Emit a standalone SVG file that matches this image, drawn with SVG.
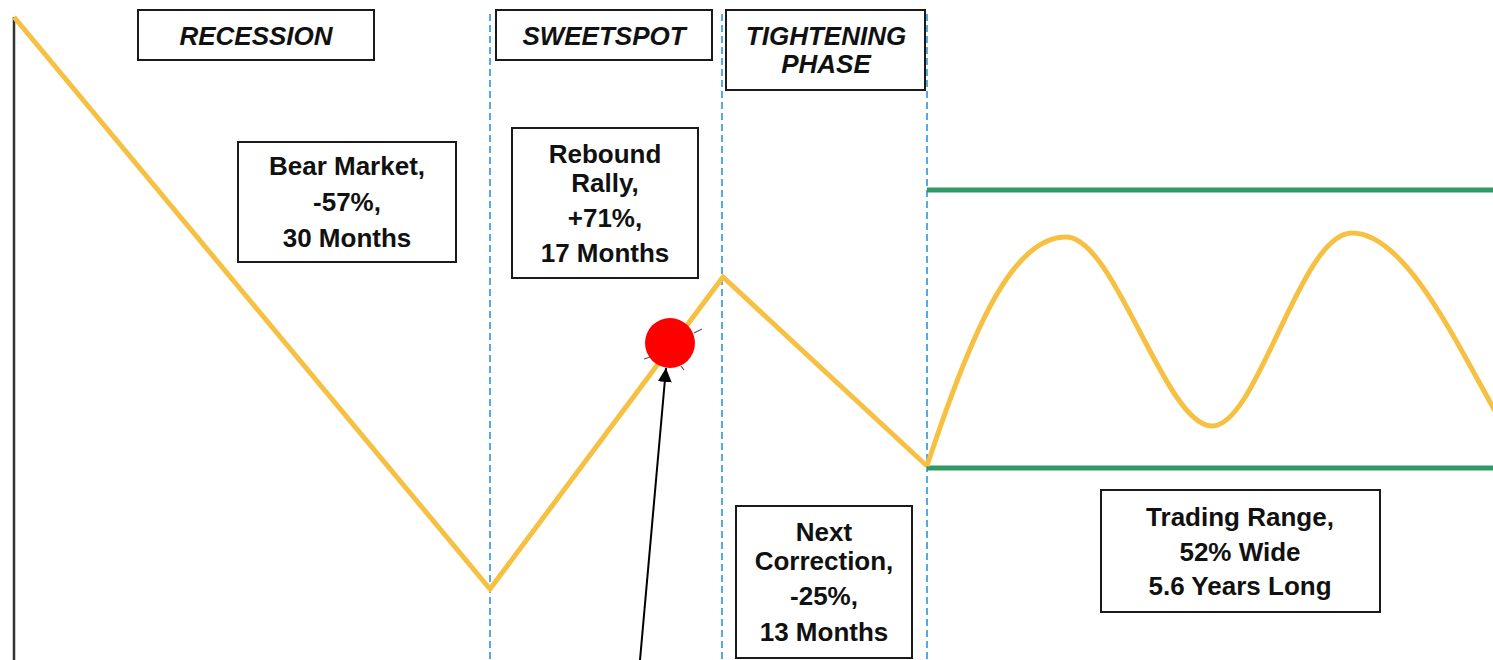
<svg xmlns="http://www.w3.org/2000/svg" width="1493" height="660" viewBox="0 0 1493 660">
<defs>
<style>
.box{fill:#fff;stroke:#1a1a1a;stroke-width:2}
.t{font-family:"Liberation Sans",Arial,sans-serif;font-weight:bold;font-size:26px;fill:#111;text-anchor:middle}
.ti{font-style:italic}
.div{stroke:#1e8fd6;stroke-width:1.5;stroke-dasharray:7,4;fill:none}
.price{stroke:#f6c042;stroke-width:5;fill:none;stroke-linejoin:miter}
.range{stroke:#2f9a66;stroke-width:5}
</style>
<marker id="ah" viewBox="0 0 10 10" refX="9" refY="5" markerWidth="8" markerHeight="8" markerUnits="userSpaceOnUse" orient="auto">
<path d="M0,0 L10,5 L0,10 z" fill="#000"/>
</marker>
<marker id="ah2" viewBox="0 0 10 10" refX="10" refY="5" markerWidth="14" markerHeight="14" markerUnits="userSpaceOnUse" orient="auto">
<path d="M0,0 L10,5 L0,10 z" fill="#000"/>
</marker>
</defs>
<rect width="1493" height="660" fill="#fff"/>
<g id="axis"><line x1="14" y1="17" x2="14" y2="660" stroke="#333" stroke-width="2.5"/></g>
<g id="connectors">
<line class="div" x1="490" y1="14" x2="490" y2="660"/>
<line class="div" x1="722" y1="14" x2="722" y2="660"/>
<line class="div" x1="927" y1="14" x2="927" y2="660"/>
<line class="range" x1="927" y1="190" x2="1493" y2="190"/>
<line class="range" x1="927" y1="468" x2="1493" y2="468"/>
<polyline class="price" points="14,17 490,589 723,277 927,466"/>
<path class="price" d="M927,466 C975,320 1015,237 1066,237 C1115,237 1165,426 1212,426 C1258,426 1300,233 1352,233 C1405,233 1455,340 1500,420"/>
<line x1="640" y1="660" x2="666" y2="368" stroke="#000" stroke-width="2" marker-end="url(#ah2)"/>
</g>
<g id="marker-dot">
<circle cx="670" cy="343" r="25" fill="#ff0000"/>
<line x1="694" y1="333" x2="702" y2="329" stroke="#555" stroke-width="1.2"/>
<line x1="644" y1="359" x2="650" y2="357" stroke="#555" stroke-width="1.2"/>
<line x1="681" y1="366" x2="684" y2="370" stroke="#555" stroke-width="1.2"/>
</g>
<g id="recession"><rect class="box" x="138" y="10" width="236" height="50"/><text class="t ti" x="256" y="45">RECESSION</text></g>
<g id="sweetspot"><rect class="box" x="496" y="10" width="216" height="50"/><text class="t ti" x="604" y="45">SWEETSPOT</text></g>
<g id="tightening"><rect class="box" x="726" y="10" width="199" height="80"/><text class="t ti" x="826" y="45">TIGHTENING</text><text class="t ti" x="826" y="73">PHASE</text></g>
<g id="bear"><rect class="box" x="238" y="142" width="218" height="120"/><text class="t" x="347" y="175">Bear Market,</text><text class="t" x="347" y="211">-57%,</text><text class="t" x="347" y="247">30 Months</text></g>
<g id="rebound"><rect class="box" x="512" y="128" width="186" height="150"/><text class="t" x="605" y="163">Rebound</text><text class="t" x="605" y="192">Rally,</text><text class="t" x="605" y="227">+71%,</text><text class="t" x="605" y="262">17 Months</text></g>
<g id="correction"><rect class="box" x="736" y="506" width="176" height="152"/><text class="t" x="824" y="541">Next</text><text class="t" x="824" y="570">Correction,</text><text class="t" x="824" y="605">-25%,</text><text class="t" x="824" y="641">13 Months</text></g>
<g id="trading"><rect class="box" x="1101" y="490" width="279" height="122"/><text class="t" x="1240" y="526">Trading Range,</text><text class="t" x="1240" y="561">52% Wide</text><text class="t" x="1240" y="595">5.6 Years Long</text></g>
</svg>
